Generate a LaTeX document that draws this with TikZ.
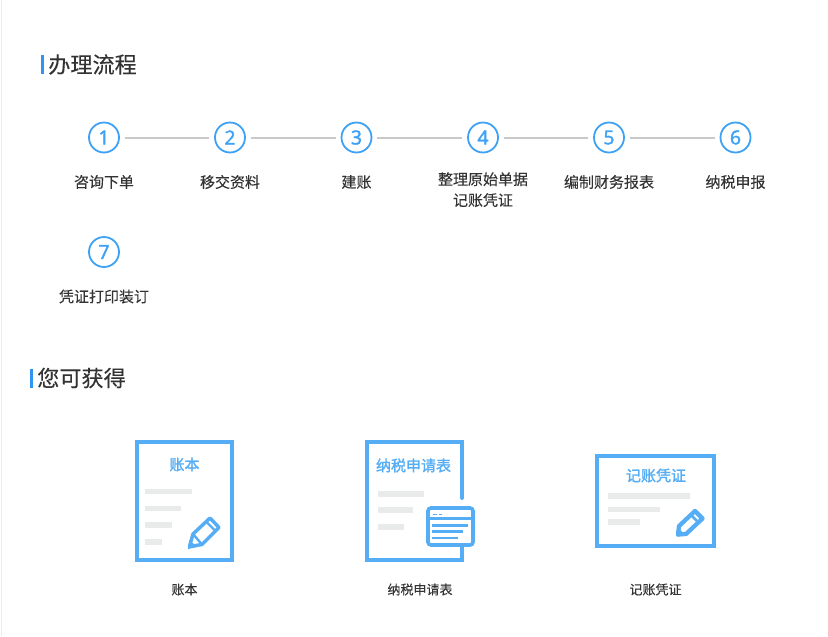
\documentclass[tikz,border=0pt]{standalone}
\usepackage{fontspec}
\setmainfont{Noto Sans CJK SC}[FakeBold=0.15]
\newfontfamily\numfont{Open Sans}[FakeBold=2]
\newfontfamily\iconfont{Noto Sans CJK SC}[FakeBold=1.6]
\definecolor{accent}{HTML}{3DA2F5}
\definecolor{iconblue}{HTML}{55ADF5}
\definecolor{barblue}{HTML}{2F95F0}
\definecolor{txt}{HTML}{333333}
\definecolor{barg}{HTML}{E9EAEA}
\tikzset{
  stepcircle/.style={circle,draw=accent,line width=1.35pt,minimum size=22.5pt,inner sep=0pt,text=accent,font=\numfont\fontsize{14.5}{14.5}\selectfont},
  steplabel/.style={text=txt,font=\fontsize{11.25}{15.7}\selectfont,align=center,inner sep=0pt},
  steplink/.style={draw=black!21,line width=1.5pt,yshift=-0.4pt,shorten >=3.75pt,shorten <=3.75pt},
  headline/.style={text=txt,font=\fontsize{16.6}{18}\selectfont,inner sep=0pt},
  headbar/.style={fill=barblue,draw=none},
  doc/.style={draw=iconblue,line width=3pt},
  icontext/.style={text=iconblue,font=\iconfont\fontsize{11.25}{12}\selectfont,inner sep=0pt},
  caption/.style={text=txt,font=\fontsize{9.75}{12}\selectfont,inner sep=0pt},
  graybar/.style={fill=barg,draw=none},
  thin blue/.style={draw=iconblue,line width=1.5pt},
}
\begin{document}
\begin{tikzpicture}[x=0.75pt,y=-0.75pt]
\useasboundingbox (0,0) rectangle (828,636);
\fill[white] (0,0) rectangle (828,636);
\fill[black!7] (0.5,0) rectangle (1.5,636);
% headings
\fill[headbar] (41,55) rectangle (44,74);
\node[headline,anchor=west] (h1) at (48,64.5) {办理流程};
\fill[headbar] (30,369) rectangle (33,388);
\node[headline,anchor=west] (h2) at (37,378) {您可获得};
% steps
\node[stepcircle] (s1) at (104,137.5) {1};
\node[stepcircle] (s2) at (230,137.5) {2};
\node[stepcircle] (s3) at (356.5,137.5) {3};
\node[stepcircle] (s4) at (483,137.5) {4};
\node[stepcircle] (s5) at (609,137.5) {5};
\node[stepcircle] (s6) at (735.5,137.5) {6};
\node[stepcircle] (s7) at (104,252) {7};
\foreach \a/\b in {s1/s2,s2/s3,s3/s4,s4/s5,s5/s6}{\draw[steplink] (\a) -- (\b);}
\node[steplabel] (l1) at (104,182) {咨询下单};
\node[steplabel] (l2) at (230,182) {移交资料};
\node[steplabel] (l3) at (356.5,182) {建账};
\node[steplabel,anchor=north] (l4) at (483,172) {整理原始单据\\记账凭证};
\node[steplabel] (l5) at (609,182) {编制财务报表};
\node[steplabel] (l6) at (735.5,182) {纳税申报};
\node[steplabel] (l7) at (104,296.5) {凭证打印装订};
% icon 1
\draw[doc] (136.5,442) rectangle (231.5,559.5);
\node[icontext] (t1) at (184.5,464.5) {账本};
\foreach \ya/\yb/\xb in {489/494/192,506/511/181,522/528/172,539/545/162}{\fill[graybar] (145,\ya) rectangle (\xb,\yb);}
\draw[thin blue,line width=2.6pt,line join=round] (189.5,546.5) -- (193,534) -- (210,518) -- (219,527.5) -- (202,544.5) -- cycle;
\draw[thin blue,line width=1.8pt] (193,534) -- (202,544.5);
\draw[thin blue,line width=1.8pt] (206,521.5) -- (215.5,531);
\fill[iconblue] (188,549) -- (189.5,540) -- (197,547) -- cycle;
% icon 2
\draw[doc,line cap=round] (462,498) -- (462,442) -- (367,442) -- (367,559.5) -- (462,559.5) -- (462,545);
\node[icontext] (t2) at (413.5,465.5) {纳税申请表};
\foreach \ya/\yb/\xb in {491/496.5/424,507/513/413,524/530/404}{\fill[graybar] (378,\ya) rectangle (\xb,\yb);}
\fill[white,draw=iconblue,line width=2.7pt,rounded corners=2.2pt] (428,508) rectangle (473,545);
\draw[thin blue,line width=1.8pt] (428,518.5) -- (473,518.5);
\draw[thin blue,line width=1.4pt] (433,514.5) -- (437,514.5) (439,514.5) -- (442,514.5);
\draw[thin blue,line width=1.7pt] (432,525.5) -- (468,525.5) (432,531.5) -- (463,531.5) (432,538) -- (458,538);
% icon 3
\draw[doc] (597,456) rectangle (714,545.5);
\node[icontext] (t3) at (656,475.5) {记账凭证};
\foreach \ya/\yb/\xb in {493/499/690,507/512/660,519/525/640}{\fill[graybar] (608,\ya) rectangle (\xb,\yb);}
\draw[thin blue,line width=3.2pt,line join=round] (678,534.5) -- (679,526) -- (695,511) -- (702.5,518.5) -- (686,534) -- cycle;
\draw[thin blue,line width=2pt] (691,515) -- (698.5,522.5);
\fill[iconblue] (676.5,536.5) -- (677.5,527) -- (686,535.5) -- cycle;
% captions
\node[caption] (c1) at (184.5,589.5) {账本};
\node[caption] (c2) at (420,589.5) {纳税申请表};
\node[caption] (c3) at (655.5,589.5) {记账凭证};
\end{tikzpicture}
\end{document}
